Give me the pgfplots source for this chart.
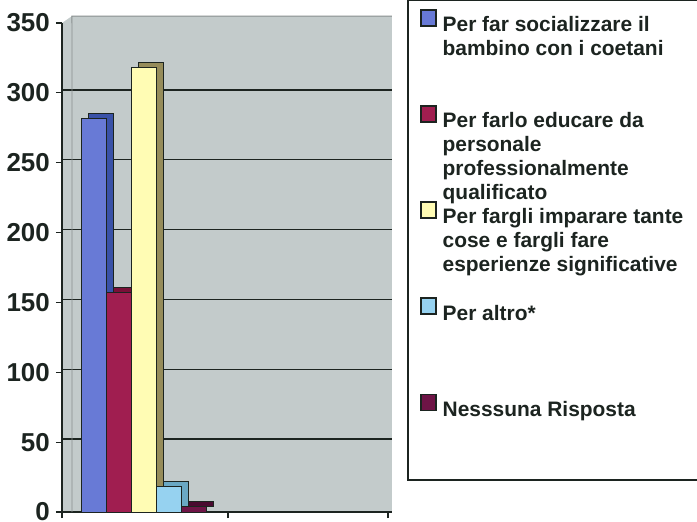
\documentclass[border=0pt]{standalone}
\usepackage{pgfplots}
\pgfplotsset{compat=1.18}
\usepackage{fontspec}
\setmainfont{Liberation Sans}

\definecolor{txt}{HTML}{1C2420}
\definecolor{wall}{HTML}{C3CBCB}
\definecolor{bluF}{HTML}{687AD6}
\definecolor{bluS}{HTML}{3A52A8}
\definecolor{redF}{HTML}{A01E50}
\definecolor{redS}{HTML}{7A1038}
\definecolor{yelF}{HTML}{FFFCB4}
\definecolor{yelS}{HTML}{968C5A}
\definecolor{cyaF}{HTML}{96D2F0}
\definecolor{cyaS}{HTML}{6AA8C4}
\definecolor{purF}{HTML}{6E1446}
\definecolor{purS}{HTML}{4A0A30}

\pgfplotsset{
  sqlegend/.style={legend image code/.code={%
      \draw[##1, line width=1.5bp, draw=txt] (0bp,-1bp) rectangle (15bp,15bp);}},
  front/.style={ybar, bar width=25, bar shift=0pt, draw=txt, line width=1bp, fill=#1, sqlegend},
  back/.style={ybar, bar width=25, bar shift=0pt, draw=txt, line width=1bp, fill=#1,
      xshift=7bp, yshift=5bp, forget plot},
}

% legend cell text: first line sits on the row baseline
\newcommand{\entry}[1]{\parbox[t]{250bp}{\raggedright #1}}

\begin{document}
\begin{tikzpicture}
\path[use as bounding box] (-62bp,-10bp) rectangle (635bp,512bp);
\begin{axis}[
  at={(0,0)}, anchor=south west,
  scale only axis, width=330bp, height=489bp,
  xmin=0, xmax=330, ymin=0, ymax=350,
  clip mode=individual,
  axis x line*=bottom, axis y line*=left,
  axis line style={line width=1.2bp, draw=txt, -},
  axis background/.style={fill=wall},
  xtick={0,166,326}, xticklabels={},
  ytick={0,50,...,350},
  tick align=outside, major tick length=6bp,
  tick style={line width=1.2bp, color=txt},
  /pgf/number format/assume math mode=true,
  yticklabel style={font=\bfseries\fontsize{26}{26}\selectfont, text=txt, inner sep=0pt, xshift=-6bp},
  extra y ticks={50,100,...,300},
  extra y tick labels={},
  extra y tick style={grid=major, major tick length=0pt,
      major grid style={line width=1.5bp, draw=txt, yshift=3bp}},
  legend cell align=left,
  legend style={at={(1.0485,1.045)}, anchor=north west, draw=none, fill=none,
      inner xsep=12bp, inner ysep=8bp, text=txt,
      font=\bfseries\fontsize{21}{24}\selectfont,
      nodes={inner sep=0pt}, row sep=72bp,
      /tikz/every odd column/.append style={column sep=6bp}},
]
% top rim and side-wall edge of the 3-D box
\fill[wall] (rel axis cs:0,1) -- (rel axis cs:0.03,1.014) -- (rel axis cs:1,1.014) -- (rel axis cs:1,1) -- cycle;
\draw[wall!70!black, line width=0.8bp] (axis cs:10,0) -- (rel axis cs:0.03,1.014) -- (rel axis cs:1,1.014);
% legend frame (runs past the right edge, as in the scan)
\draw[line width=1.5bp, draw=txt, fill=white]
  (rel axis cs:1.0485,1.047) rectangle (rel axis cs:1.97,0.0654);

\addplot[back=bluS] coordinates {(32,282)};
\addplot[front=bluF] coordinates {(32,282)};
\addlegendentry{\entry{Per far socializzare il\\bambino con i coetani}}

\addplot[back=redS] coordinates {(57,157)};
\addplot[front=redF] coordinates {(57,157)};
\addlegendentry{\entry{Per farlo educare da\\personale\\professionalmente\\qualificato}}

\addplot[back=yelS] coordinates {(82,318)};
\addplot[front=yelF] coordinates {(82,318)};
\addlegendentry{\entry{Per fargli imparare tante\\cose e fargli fare\\esperienze significative}}

\addplot[back=cyaS] coordinates {(107,18)};
\addplot[front=cyaF] coordinates {(107,18)};
\addlegendentry{\entry{Per altro*}}

\addplot[back=purS] coordinates {(132,4)};
\addplot[front=purF] coordinates {(132,4)};
\addlegendentry{\entry{Nesssuna Risposta}}
\end{axis}
\end{tikzpicture}
\end{document}
